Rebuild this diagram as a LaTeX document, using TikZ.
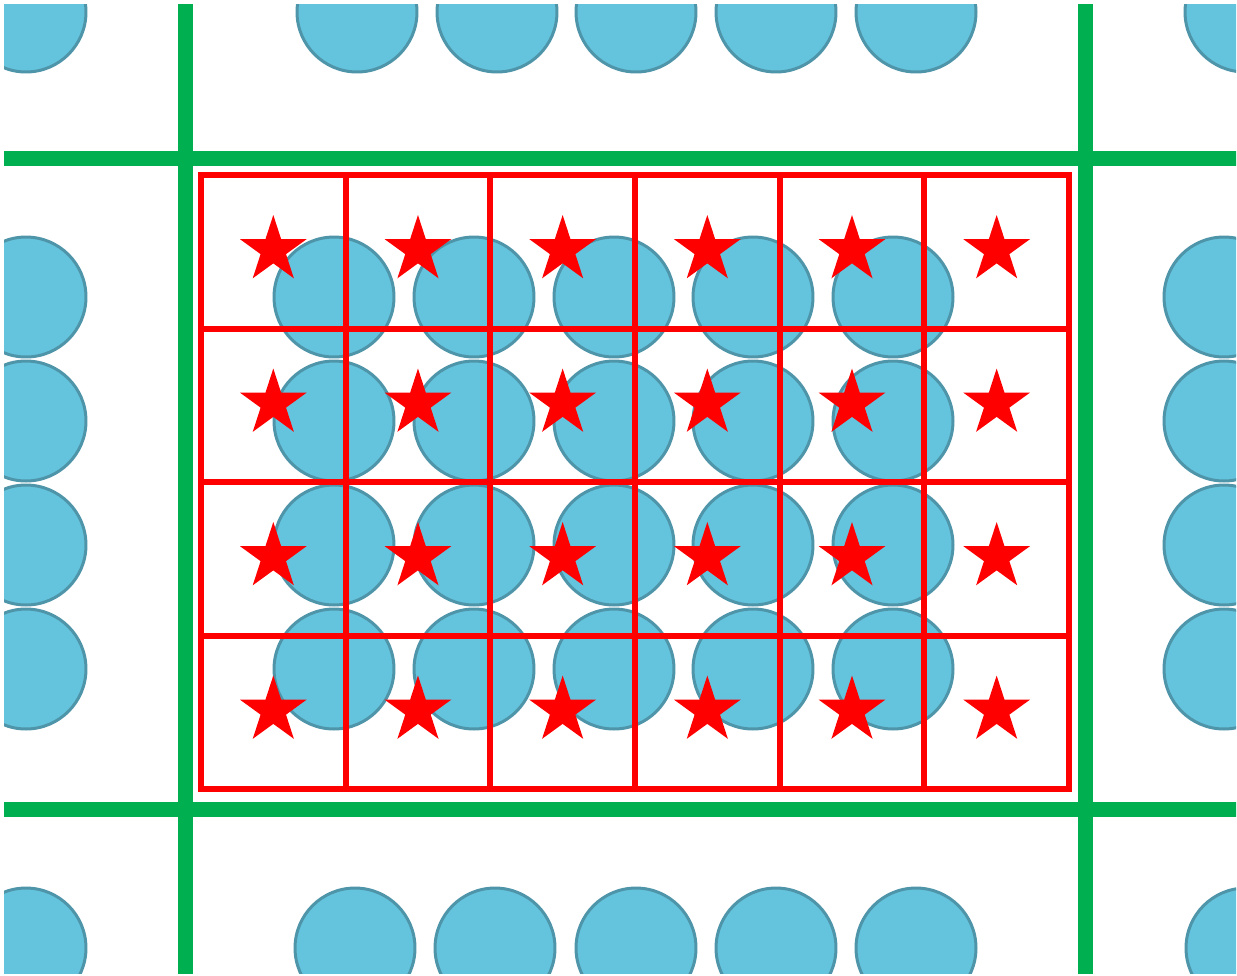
\documentclass[tikz,border=0pt]{standalone}
\usetikzlibrary{shapes.geometric}
\definecolor{dotblue}{HTML}{64C3DD}
\definecolor{dotedge}{HTML}{4F95A9}
\definecolor{wallgreen}{HTML}{00AF50}
\tikzset{
  dot/.style={fill=dotblue,draw=dotedge,line width=0.06cm},
  wall/.style={wallgreen,line width=0.3cm},
  cell/.style={red,line width=0.12cm},
  pin/.style={star,star points=5,star point ratio=2.618,fill=red,
    inner sep=0pt,minimum size=1.4cm}
}
\begin{document}
\begin{tikzpicture}[x=0.02cm,y=-0.02cm]
    \useasboundingbox (0,0) rectangle (1237,975);
    \clip (4,4) rectangle (1236,973);
    % particles
    \foreach \x in {26,334,474,614,753,893,1224}
      \foreach \y in {297,421,545,669}
        \draw[dot] (\x,\y) circle[radius=1.2cm];
    \foreach \x/\y in {26/12,357/12,497/12,636/12,776/12,916/12,1245/12,
      26/948,355/948,495/948,636/948,776/948,916/948,1246/948}
      \draw[dot] (\x,\y) circle[radius=1.2cm];
    % cell walls
    \draw[wall] (185.5,0) -- (185.5,975);
    \draw[wall] (1085.5,0) -- (1085.5,975);
    \draw[wall] (0,158) -- (1237,158);
    \draw[wall] (0,809) -- (1237,809);
    % grid
    \draw[cell] (201,175) rectangle (1069,789);
    \foreach \i in {1,...,5}
      \draw[cell] ({201+144.67*\i},175) -- ({201+144.67*\i},789);
    \foreach \j in {1,2,3}
      \draw[cell] (201,{175+153.5*\j}) -- (1069,{175+153.5*\j});
    \foreach \i in {0,...,5}
      \foreach \j in {0,...,3}
        \node[pin] (s\i\j) at ({273.3+144.67*\i},{250+153.5*\j}) {};
  \end{tikzpicture}
\end{document}
